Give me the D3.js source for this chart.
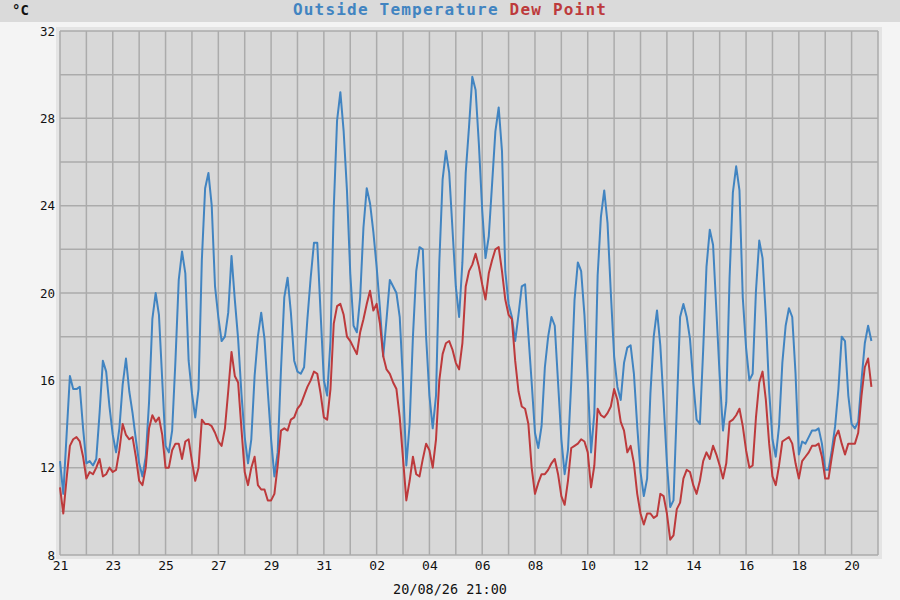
<!DOCTYPE html>
<html>
<head>
<meta charset="utf-8">
<script src="https://cdn.jsdelivr.net/npm/d3@7"></script>
<style>
  html, body { margin: 0; padding: 0; background: #f4f4f4; }
  svg { display: block; font-family: "DejaVu Sans Mono", "Liberation Mono", monospace; }
</style>
</head>
<body>
<div id="chart"></div>
<script>
// readings every 3 hours from 21 Jul 00:00
var startTime = Date.UTC(2026, 6, 21, 0, 0)
var endTime = Date.UTC(2026, 7, 21, 0, 0)
var stepHours = 3

var outsideTemp = [
  12.3, 10.8, 13.5, 16.2, 15.6, 15.6, 15.7, 13.8,
  12.2, 12.3, 12.1, 12.4, 14.5, 16.9, 16.4, 14.8,
  13.5, 12.7, 13.8, 15.8, 17.0, 15.5, 14.5, 13.3,
  12.2, 11.6, 12.5, 15.0, 18.8, 20.0, 19.0, 16.0,
  13.0, 12.7, 13.7, 16.9, 20.6, 21.9, 20.9, 16.9,
  15.4, 14.3, 15.6, 21.5, 24.8, 25.5, 24.0, 20.3,
  18.9, 17.8, 18.0, 19.1, 21.7, 19.7, 17.9, 15.4,
  13.4, 12.2, 13.3, 16.2, 18.0, 19.1, 17.9, 15.5,
  13.3, 11.6, 12.7, 16.5, 19.8, 20.7, 19.1, 16.9,
  16.4, 16.3, 16.6, 18.8, 20.7, 22.3, 22.3, 19.1,
  16.0, 15.3, 17.8, 23.9, 27.9, 29.2, 27.4, 24.7,
  20.9, 18.5, 18.2, 19.8, 23.0, 24.8, 24.1, 22.8,
  21.2, 19.3, 17.1, 18.8, 20.6, 20.3, 20.0, 18.9,
  15.9, 12.1, 14.0, 18.0, 21.0, 22.1, 22.0, 18.0,
  15.3, 13.8, 15.3, 21.4, 25.2, 26.5, 25.5, 22.9,
  20.3, 18.9, 21.4, 25.5, 27.6, 29.9, 29.3, 26.8,
  23.8, 21.6, 22.6, 25.0, 27.4, 28.5, 26.5, 21.0,
  19.5, 18.9, 17.8, 19.0, 20.3, 20.4, 18.1, 15.9,
  13.6, 12.9, 13.9, 16.6, 18.0, 18.9, 18.5, 15.9,
  13.3, 11.7, 12.8, 15.9, 19.7, 21.4, 21.0, 19.0,
  16.0, 12.7, 14.5, 20.8, 23.5, 24.7, 23.2, 20.0,
  17.1, 15.7, 15.1, 16.8, 17.5, 17.6, 16.3, 13.9,
  11.8, 10.7, 11.5, 15.4, 18.0, 19.2, 17.6, 15.0,
  12.2, 10.2, 10.5, 14.7, 18.9, 19.5, 18.9, 17.9,
  15.9, 14.2, 14.0, 17.4, 21.2, 22.9, 22.2, 19.2,
  16.2, 13.7, 15.0, 20.7, 24.6, 25.8, 24.7, 19.8,
  17.5, 16.0, 16.3, 20.1, 22.4, 21.6, 18.9, 15.5,
  13.3, 12.5, 13.9, 16.8, 18.5, 19.3, 18.9, 16.3,
  12.6, 13.2, 13.1, 13.4, 13.7, 13.7, 13.8, 13.1,
  11.9, 11.9, 12.8, 13.9, 15.6, 18.0, 17.8, 15.3,
  14.0, 13.8, 14.1, 16.0, 17.7, 18.5, 17.8
]

var dewPoint = [
  11.1, 9.9, 11.5, 13.0, 13.3, 13.4, 13.2, 12.5,
  11.5, 11.8, 11.7, 12.0, 12.4, 11.6, 11.7, 12.0,
  11.8, 11.9, 12.8, 14.0, 13.5, 13.3, 13.4, 12.5,
  11.4, 11.2, 12.0, 13.8, 14.4, 14.1, 14.3, 13.5,
  12.0, 12.0, 12.8, 13.1, 13.1, 12.4, 13.2, 13.3,
  12.3, 11.4, 12.0, 14.2, 14.0, 14.0, 13.9, 13.6,
  13.2, 13.0, 13.8, 15.5, 17.3, 16.2, 15.9, 13.8,
  11.8, 11.2, 12.0, 12.5, 11.2, 11.0, 11.0, 10.5,
  10.5, 10.8, 12.1, 13.7, 13.8, 13.7, 14.2, 14.3,
  14.7, 14.9, 15.3, 15.7, 16.0, 16.4, 16.3, 15.4,
  14.3, 14.2, 15.6, 18.6, 19.4, 19.5, 19.0, 18.0,
  17.8, 17.5, 17.2, 18.2, 18.8, 19.5, 20.1, 19.2,
  19.5, 18.6, 17.1, 16.5, 16.3, 15.9, 15.6, 14.3,
  12.4, 10.5, 11.4, 12.5, 11.7, 11.6, 12.4, 13.1,
  12.8, 12.0, 13.3, 16.0, 17.2, 17.7, 17.8, 17.4,
  16.8, 16.5, 17.7, 20.3, 21.0, 21.3, 21.8, 21.2,
  20.4, 19.7, 20.9, 21.5, 22.0, 22.1, 21.0, 19.7,
  19.0, 18.8, 16.9, 15.5, 14.8, 14.7, 14.0, 12.0,
  10.8, 11.3, 11.7, 11.7, 11.9, 12.2, 12.4, 11.7,
  10.7, 10.3, 11.4, 12.9, 13.0, 13.1, 13.3, 13.2,
  12.7, 11.1, 12.1, 14.7, 14.4, 14.3, 14.5, 14.8,
  15.6, 15.1, 14.1, 13.7, 12.7, 13.0, 12.2, 10.8,
  9.9, 9.4, 9.9, 9.9, 9.7, 9.8, 10.8, 10.7,
  9.9, 8.7, 8.9, 10.1, 10.4, 11.5, 11.9, 11.8,
  11.2, 10.8, 11.4, 12.3, 12.7, 12.4, 13.0, 12.6,
  12.1, 11.5, 12.2, 14.1, 14.2, 14.4, 14.7, 13.9,
  12.8, 12.0, 12.1, 14.3, 15.9, 16.4, 15.1, 13.1,
  11.6, 11.2, 12.1, 13.2, 13.3, 13.4, 13.1, 12.2,
  11.5, 12.3, 12.5, 12.7, 13.0, 13.0, 13.1, 12.5,
  11.5, 11.5, 12.5, 13.4, 13.7, 13.1, 12.6, 13.1,
  13.1, 13.1, 13.6, 15.3, 16.6, 17.0, 15.7
]

var yTickLabels = [8, 12, 16, 20, 24, 28, 32]
var yGridValues = [8, 10, 12, 14, 16, 18, 20, 22, 24, 26, 28, 30, 32]
var titleParts = [
  { text: 'Outside Temperature', color: '#4184c1' },
  { text: ' ', color: '#4184c1' },
  { text: 'Dew Point', color: '#bd3a3c' }
]
var unitLabel = '°C'
var footerLabel = '20/08/26 21:00'

var width = 900, height = 600
var margin = { top: 31, right: 22, bottom: 45, left: 60 }

var svg = d3.select('#chart').append('svg')
  .attr('width', width)
  .attr('height', height)

svg.append('rect')
  .attr('width', width).attr('height', height)
  .attr('fill', '#f4f4f4')

svg.append('rect')
  .attr('width', width).attr('height', 22)
  .attr('fill', '#dadada')

var x = d3.scaleUtc()
  .domain([new Date(startTime), new Date(endTime)])
  .range([margin.left, width - margin.right])

var y = d3.scaleLinear()
  .domain([8, 32])
  .range([height - margin.bottom, margin.top])

var plotW = x.range()[1] - x.range()[0]
var plotH = y.range()[0] - y.range()[1]

// outer band and plot background
svg.append('rect')
  .attr('x', margin.left - 4).attr('y', margin.top - 4)
  .attr('width', plotW + 8).attr('height', plotH + 8)
  .attr('fill', '#e4e4e4')

svg.append('rect')
  .attr('x', margin.left).attr('y', margin.top)
  .attr('width', plotW).attr('height', plotH)
  .attr('fill', '#d8d8d8')

// grid
var days = d3.utcDay.range(new Date(startTime), new Date(endTime + 1))
svg.append('g')
  .attr('class', 'grid')
  .selectAll('line.v')
  .data(days)
  .join('line')
  .attr('x1', d => x(d)).attr('x2', d => x(d))
  .attr('y1', y.range()[1]).attr('y2', y.range()[0])
  .attr('stroke', '#ababab')
  .attr('stroke-width', 1.5)

svg.append('g')
  .selectAll('line')
  .data(yGridValues)
  .join('line')
  .attr('x1', x.range()[0]).attr('x2', x.range()[1])
  .attr('y1', d => y(d)).attr('y2', d => y(d))
  .attr('stroke', '#ababab')
  .attr('stroke-width', 1.5)

// axes
var yAxis = d3.axisLeft(y)
  .tickValues(yTickLabels)
  .tickSize(0)
  .tickPadding(5)

var yg = svg.append('g')
  .attr('transform', 'translate(' + margin.left + ',0)')
  .call(yAxis)
yg.select('.domain').remove()
yg.selectAll('text')
  .attr('font-size', 12.5)
  .attr('font-family', '"DejaVu Sans Mono", monospace')
  .attr('fill', '#111')

var labelDays = days.filter((d, i) => i % 2 === 0 && d < new Date(endTime))
var xAxis = d3.axisBottom(x)
  .tickValues(labelDays)
  .tickSize(0)
  .tickPadding(6)
  .tickFormat(d3.utcFormat('%d'))

var xg = svg.append('g')
  .attr('transform', 'translate(0,' + y.range()[0] + ')')
  .call(xAxis)
xg.select('.domain').remove()
xg.selectAll('text')
  .attr('font-size', 13)
  .attr('font-family', '"DejaVu Sans Mono", monospace')
  .attr('fill', '#111')

// series
var timeOf = i => new Date(startTime + i * stepHours * 3600 * 1000)
var line = d3.line()
  .x((d, i) => x(timeOf(i)))
  .y(d => y(d))

svg.append('path')
  .datum(outsideTemp)
  .attr('d', line)
  .attr('fill', 'none')
  .attr('stroke', titleParts[0].color)
  .attr('stroke-width', 2)
  .attr('stroke-linejoin', 'round')

svg.append('path')
  .datum(dewPoint)
  .attr('d', line)
  .attr('fill', 'none')
  .attr('stroke', titleParts[2].color)
  .attr('stroke-width', 2)
  .attr('stroke-linejoin', 'round')

// labels
svg.append('text')
  .attr('x', 12).attr('y', 15)
  .attr('font-size', 14)
  .attr('font-weight', 'bold')
  .attr('fill', '#111')
  .text(unitLabel)

var title = svg.append('text')
  .attr('x', width / 2).attr('y', 15)
  .attr('text-anchor', 'middle')
  .attr('font-size', 16)
  .attr('font-weight', 'bold')
  .attr('letter-spacing', 1.2)
title.selectAll('tspan')
  .data(titleParts)
  .join('tspan')
  .attr('fill', d => d.color)
  .text(d => d.text)

svg.append('text')
  .attr('x', width / 2).attr('y', 594)
  .attr('text-anchor', 'middle')
  .attr('font-size', 13.5)
  .attr('fill', '#111')
  .text(footerLabel)
</script>
</body>
</html>
